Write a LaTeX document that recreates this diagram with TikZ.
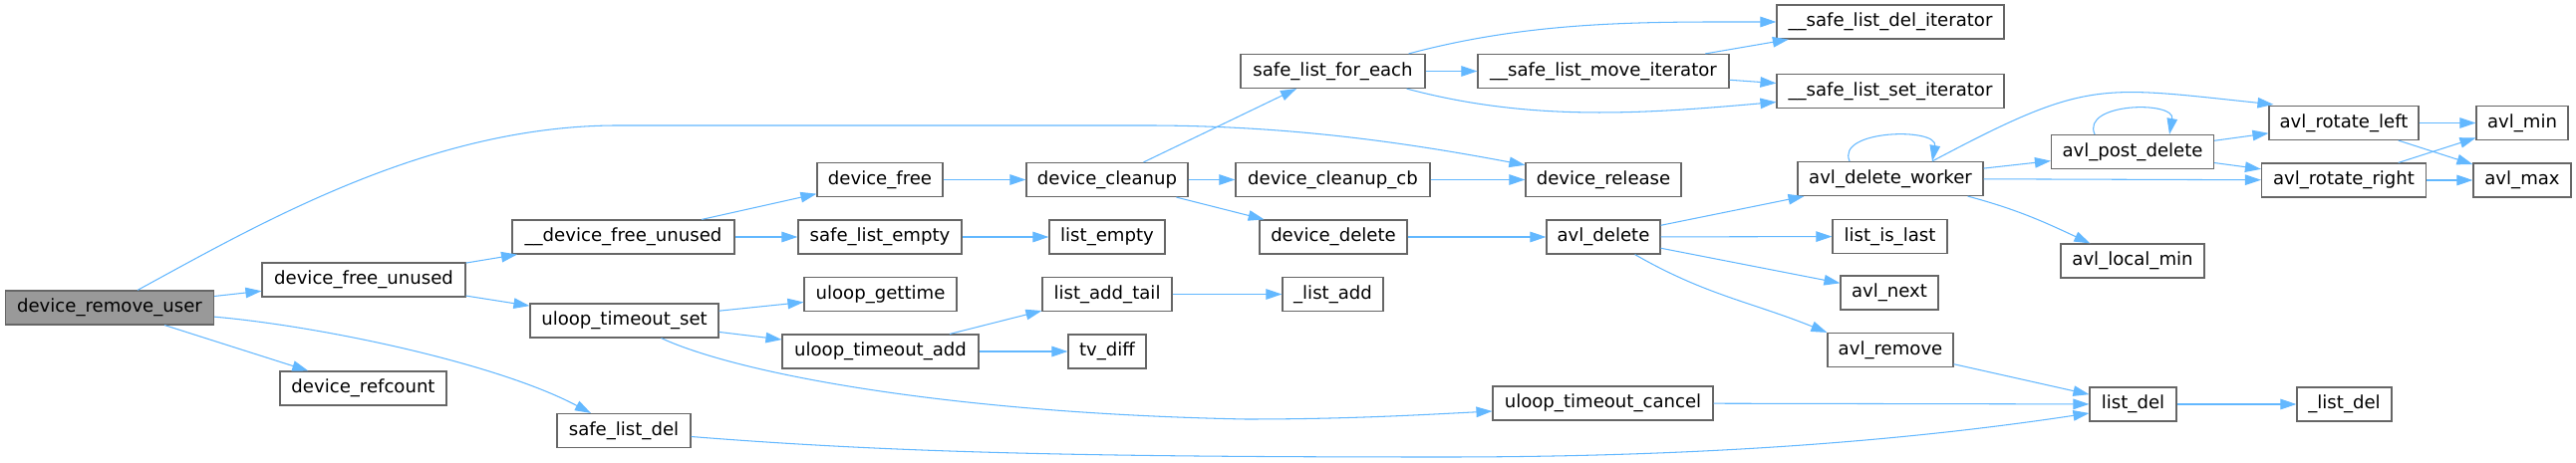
\documentclass[tikz,border=0pt]{standalone}
\usepackage{fontspec}
\setmainfont{DejaVu Sans}
\usepackage{tikz}
\usetikzlibrary{arrows.meta,calc}
\definecolor{boxline}{HTML}{666666}
\definecolor{rootfill}{HTML}{999999}
\definecolor{callblue}{HTML}{63B8FF}
\tikzset{
  >={Triangle[length=16pt,width=10.5pt]},
  func/.style={draw=boxline,fill=white,line width=1.15pt,minimum height=34pt,inner sep=0pt,
    font=\fontsize{18.1}{20}\selectfont},
  rootfunc/.style={func,fill=rootfill},
  call/.style={->,line width=1.05pt,color=callblue},
}
\begin{document}
\begin{tikzpicture}[x=1pt,y=1pt]
  \useasboundingbox[fill=white] (0,0) rectangle (2585,465);

  \node[rootfunc,minimum width=209pt] (rmuser) at (110,156) {device\_remove\_user};
  \node[func,minimum width=204pt] (freeunused) at (365,184) {device\_free\_unused};
  \node[func,minimum width=167pt] (refcount) at (364.5,75) {device\_refcount};
  \node[func,minimum width=223pt] (ufreeunused) at (625.5,227) {\_\_device\_free\_unused};
  \node[func,minimum width=189pt] (tmset) at (626.5,143) {uloop\_timeout\_set};
  \node[func,minimum width=134pt] (sldel) at (626,32.5) {safe\_list\_del};
  \node[func,minimum width=126pt] (devfree) at (883,284.5) {device\_free};
  \node[func,minimum width=164pt] (slempty) at (883,227) {safe\_list\_empty};
  \node[func,minimum width=153pt] (gettime) at (883.5,169.5) {uloop\_gettime};
  \node[func,minimum width=197pt] (tmadd) at (883.5,112) {uloop\_timeout\_add};
  \node[func,minimum width=162pt] (cleanup) at (1111,284.5) {device\_cleanup};
  \node[func,minimum width=116pt] (lempty) at (1111,227) {list\_empty};
  \node[func,minimum width=130pt] (addtail) at (1111,169.5) {list\_add\_tail};
  \node[func,minimum width=78pt] (tvdiff) at (1111,112) {tv\_diff};
  \node[func,minimum width=185pt] (slforeach) at (1337.5,393.5) {safe\_list\_for\_each};
  \node[func,minimum width=195pt] (cleanupcb) at (1337.5,284.5) {device\_cleanup\_cb};
  \node[func,minimum width=148pt] (devdelete) at (1338,227) {device\_delete};
  \node[func,minimum width=101pt] (listadd) at (1337.5,169.5) {\_list\_add};
  \node[func,minimum width=252pt] (slmove) at (1609,393.5) {\_\_safe\_list\_move\_iterator};
  \node[func,minimum width=156pt] (release) at (1609,284.5) {device\_release};
  \node[func,minimum width=114pt] (avldelete) at (1609,227) {avl\_delete};
  \node[func,minimum width=221pt] (tmcancel) at (1608.5,60) {uloop\_timeout\_cancel};
  \node[func,minimum width=228pt] (sldeliter) at (1897,443) {\_\_safe\_list\_del\_iterator};
  \node[func,minimum width=228pt] (slsetiter) at (1897,373.5) {\_\_safe\_list\_set\_iterator};
  \node[func,minimum width=186pt] (delworker) at (1897,285.5) {avl\_delete\_worker};
  \node[func,minimum width=115pt] (islast) at (1896.5,227.5) {list\_is\_last};
  \node[func,minimum width=98pt] (avlnext) at (1896,171) {avl\_next};
  \node[func,minimum width=126pt] (avlremove) at (1897,113.5) {avl\_remove};
  \node[func,minimum width=163pt] (postdelete) at (2140,312.5) {avl\_post\_delete};
  \node[func,minimum width=144pt] (localmin) at (2140,203) {avl\_local\_min};
  \node[func,minimum width=87pt] (ldel) at (2140.5,59) {list\_del};
  \node[func,minimum width=150pt] (rotleft) at (2352,341.5) {avl\_rotate\_left};
  \node[func,minimum width=165pt] (rotright) at (2352,284) {avl\_rotate\_right};
  \node[func,minimum width=95pt] (uldel) at (2352.5,59) {\_list\_del};
  \node[func,minimum width=92pt] (avlmin) at (2531,341.5) {avl\_min};
  \node[func,minimum width=98pt] (avlmax) at (2531,284) {avl\_max};

  \draw[call] ($(rmuser.north)+(28,0)$) .. controls (260,240) and (430,339) .. (620,339)
    -- (1150,339) .. controls (1300,339) and (1420,320) .. (release);
  \draw[call] (rmuser)--(freeunused);
  \draw[call] (rmuser)--(refcount);
  \draw[call] (rmuser) to[out=-5,in=152,looseness=0.7] (sldel);
  \draw[call] (freeunused)--(ufreeunused);
  \draw[call] (freeunused)--(tmset);
  \draw[call] (ufreeunused)--(devfree);
  \draw[call] (ufreeunused)--(slempty);
  \draw[call] (slempty)--(lempty);
  \draw[call] (devfree)--(cleanup);
  \draw[call] (cleanup)--(slforeach);
  \draw[call] (cleanup)--(cleanupcb);
  \draw[call] (cleanup)--(devdelete);
  \draw[call] (cleanupcb)--(release);
  \draw[call] (tmset)--(gettime);
  \draw[call] (tmset)--(tmadd);
  \draw[call] ($(tmset.south)+(37,0)$) .. controls (740,90) and (950,50) .. (1250,44)
    .. controls (1350,44) and (1420,48) .. ($(tmcancel.west)+(0,-8)$);
  \draw[call] (tmadd)--(addtail);
  \draw[call] (tmadd)--(tvdiff);
  \draw[call] (addtail)--(listadd);
  \draw[call] ($(sldel.east)+(0,-6)$) .. controls (900,10) and (1100,6) .. (1450,6)
    .. controls (1750,6) and (1950,28) .. ($(ldel.west)+(0,-9)$);
  \draw[call] ($(slforeach.north east)+(-17,0)$) to[out=15,in=180,looseness=0.9] (sldeliter.west);
  \draw[call] (slforeach)--(slmove);
  \draw[call] ($(slforeach.south east)+(-19,0)$) to[out=-15,in=185,looseness=0.9] ($(slsetiter.west)+(0,-11)$);
  \draw[call] (slmove)--(sldeliter);
  \draw[call] (slmove)--(slsetiter);
  \draw[call] (devdelete)--(avldelete);
  \draw[call] (avldelete)--(delworker);
  \draw[call] (avldelete)--(islast);
  \draw[call] (avldelete)--(avlnext);
  \draw[call] ($(avldelete.south east)+(-26,0)$) to[out=-30,in=158] (avlremove.north west);
  \draw[call] (tmcancel)--(ldel);
  \draw[call] (avlremove)--(ldel);
  \draw[call] (ldel)--(uldel);
  \draw[call] ($(delworker.north)+(-41,0)$) .. controls +(-14,32) and +(6,34) .. ($(delworker.north)+(42,0)$);
  \draw[call] ($(delworker.north)+(42,0)$) to[out=28,in=174,looseness=1.3] ($(rotleft.north west)+(5,1)$);
  \draw[call] (delworker)--(postdelete);
  \draw[call] (delworker)--(rotright);
  \draw[call] ($(delworker.south east)+(-16,0)$) to[out=-15,in=155] ($(localmin.north west)+(30,0)$);
  \draw[call] ($(postdelete.north)+(-38,0)$) .. controls +(-14,32) and +(6,34) .. ($(postdelete.north)+(37,0)$);
  \draw[call] (postdelete)--(rotleft);
  \draw[call] (postdelete)--(rotright);
  \draw[call] (rotleft)--(avlmin);
  \draw[call] (rotleft)--(avlmax);
  \draw[call] (rotright)--(avlmin);
  \draw[call] (rotright)--(avlmax);
\end{tikzpicture}
\end{document}
